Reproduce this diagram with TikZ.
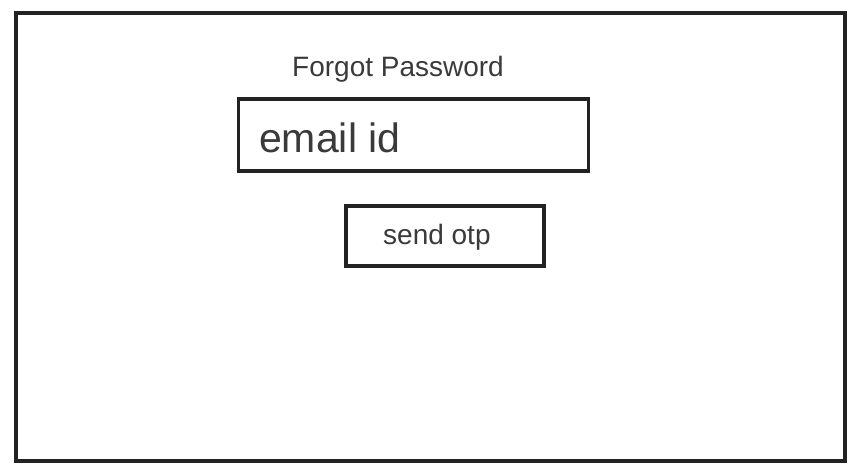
\documentclass[tikz,border=0pt]{standalone}
\usepackage{fontspec}
\setmainfont{Liberation Sans}
\definecolor{linec}{HTML}{222222}
\definecolor{textc}{HTML}{3A3A3A}
\tikzset{
  frame/.style={draw=linec, line width=3.2pt, inner sep=0pt, outer sep=0pt},
  label/.style={text=textc, inner sep=0pt, anchor=base west},
}
\begin{document}
\begin{tikzpicture}[x=1pt,y=-1pt]
\useasboundingbox (0,0) rectangle (860,467);
\node[frame, minimum width=829pt, minimum height=448pt] (outer) at (430.5,237) {};
\node[frame, minimum width=350pt, minimum height=72pt] (emailbox) at (413.5,135) {};
\node[frame, minimum width=198pt, minimum height=60pt] (sendbox) at (445,236) {};
\node[label, font=\fontsize{28}{30}\selectfont] (title) at (292,76) {Forgot Password};
\node[label, font=\fontsize{41}{44}\selectfont] (email) at (259,152) {email id};
\node[label, font=\fontsize{28}{30}\selectfont] (send) at (383,244) {send otp};
\end{tikzpicture}
\end{document}
